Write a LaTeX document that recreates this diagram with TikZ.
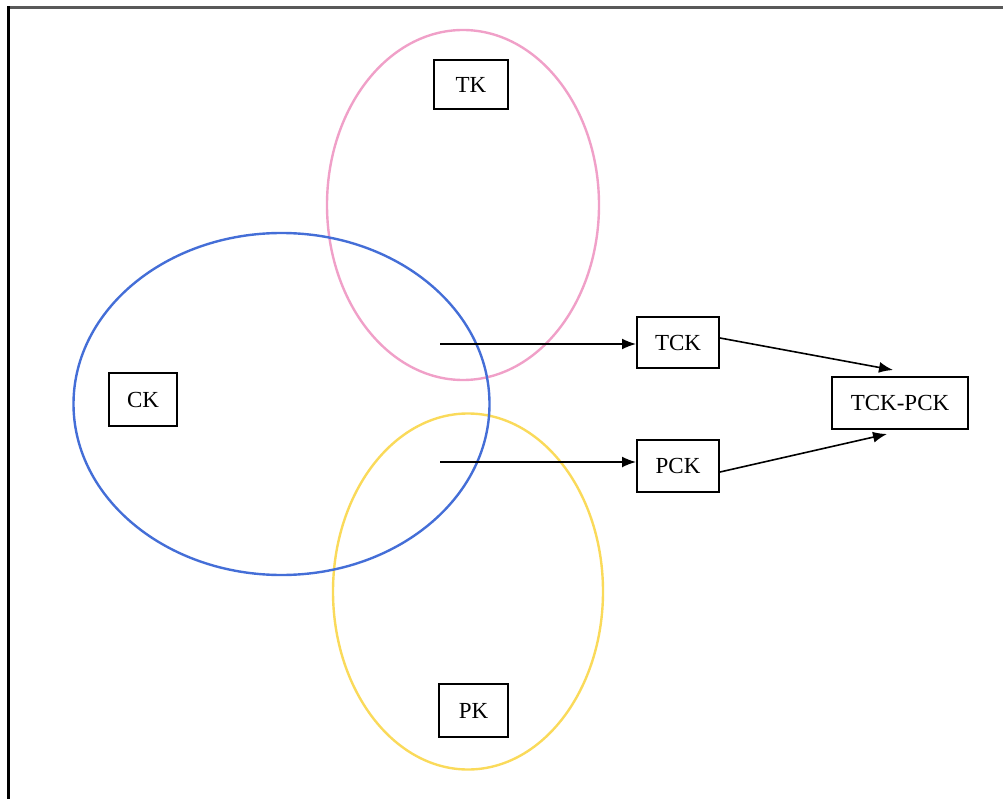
\documentclass[tikz,border=0pt]{standalone}
\usepackage{fontspec}
\setmainfont{Liberation Serif}
\usetikzlibrary{arrows.meta}
\definecolor{tkpink}{RGB}{240,160,200}
\definecolor{ckblue}{RGB}{68,110,215}
\definecolor{pkyellow}{RGB}{250,218,90}
\begin{document}
\begin{tikzpicture}[x=1pt,y=-1pt,
  box/.style={draw, line width=2pt, fill=white, inner sep=0pt, font=\fontsize{23}{27}\selectfont},
  ring/.style={line width=2.4pt},
  link/.style={line width=1.6pt, -{Latex[length=14pt,width=11pt]}}]
\useasboundingbox (0,0) rectangle (1003,799);
% frame
\draw[line width=2.5pt, black!65] (8,7.5) -- (1003,7.5);
\draw[line width=3pt] (8.5,6.5) -- (8.5,799);
% ellipses
\draw[ring, tkpink] (463,205) ellipse [x radius=136pt, y radius=175pt];
\draw[ring, pkyellow] (468,591.5) ellipse [x radius=135pt, y radius=178pt];
\draw[ring, ckblue] (281.5,404) ellipse [x radius=208pt, y radius=171pt];
% boxes
\node[box, minimum width=74pt, minimum height=49pt] (tk) at (471,85) {TK};
\node[box, minimum width=69pt, minimum height=53pt] (pk) at (473.5,710.5) {PK};
\node[box, minimum width=68pt, minimum height=53pt] (ck) at (143,399.5) {CK};
\node[box, minimum width=82pt, minimum height=51pt] (tck) at (678,342.5) {TCK};
\node[box, minimum width=82pt, minimum height=52pt] (pck) at (678,466) {PCK};
\node[box, minimum width=136pt, minimum height=52pt] (tckpck) at (900,403) {TCK-PCK};
% connectors
\coordinate (s1) at (440,344);
\coordinate (s2) at (440,462);
\coordinate (e1) at (893,370);
\coordinate (e2) at (887,434);
\coordinate (o1) at (720,338);
\coordinate (o2) at (720,472);
\draw[link] (s1) -- (s1 -| tck.west);
\draw[link] (s2) -- (s2 -| pck.west);
\draw[link] (o1) -- (e1);
\draw[link] (o2) -- (e2);
\end{tikzpicture}
\end{document}
